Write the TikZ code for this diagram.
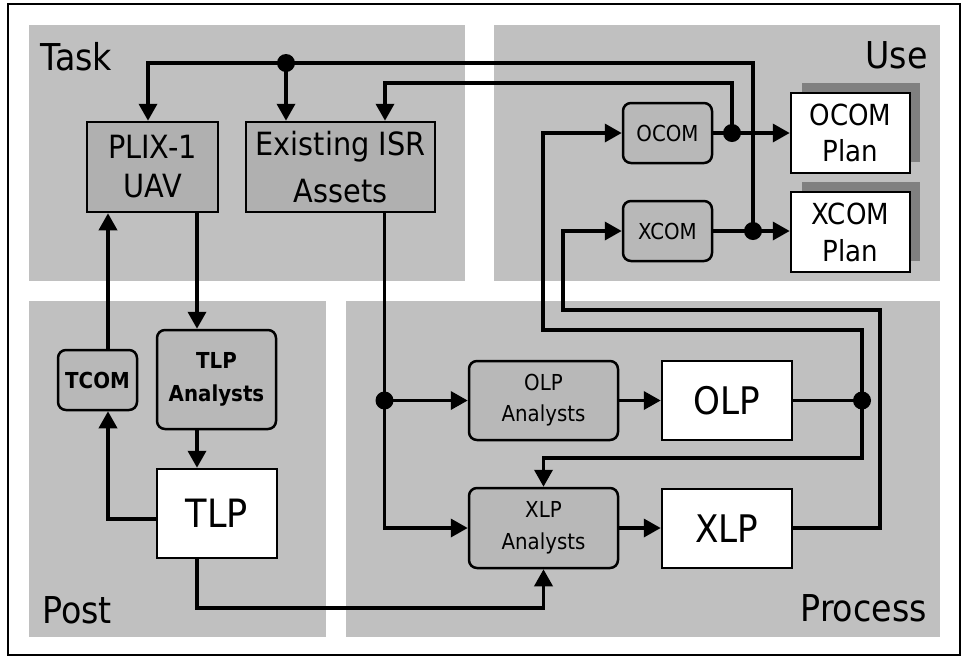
\documentclass[tikz,border=0pt]{standalone}
\usepackage{fontspec}
\setmainfont{DejaVu Sans}[FakeStretch=0.9]
\usetikzlibrary{arrows.meta}
\definecolor{panel}{HTML}{C0C0C0}
\definecolor{boxfill}{HTML}{B0B0B0}
\definecolor{rfill}{HTML}{B8B8B8}
\definecolor{shadowc}{HTML}{808080}
\begin{document}
\begin{tikzpicture}[x=1pt,y=-1pt,
  sqbox/.style={draw=black,line width=2.5pt,fill=boxfill,inner sep=0pt,align=center},
  rbox/.style={draw=black,line width=2.5pt,fill=rfill,rounded corners=8pt,inner sep=0pt,align=center},
  wbox/.style={draw=black,line width=2.5pt,fill=white,inner sep=0pt,align=center},
  conn/.style={line width=3.6pt,-{Triangle[length=17pt,width=18pt]}},
  wire/.style={line width=3.6pt},
  junc/.style={circle,fill=black,inner sep=0pt,minimum size=18pt},
  plabel/.style={font=\fontsize{37}{44}\selectfont,inner sep=0pt},
]
\useasboundingbox (0,0) rectangle (966,657);
\fill[white] (0,0) rectangle (966,657);
\draw[line width=2.5pt] (8,4) rectangle (960,655);
% panels
\fill[panel] (29,25) rectangle (465,281);
\fill[panel] (494,25) rectangle (940,281);
\fill[panel] (29,301) rectangle (326,637);
\fill[panel] (346,301) rectangle (940,637);
% panel labels
\node[plabel,anchor=base west] (ltask) at (40,70) {Task};
\node[plabel,anchor=base east] (luse) at (928,68) {Use};
\node[plabel,anchor=base west] (lpost) at (42,623) {Post};
\node[plabel,anchor=base east] (lproc) at (927,621) {Process};
% shadows
\fill[shadowc] (802,83) rectangle (920,162);
\fill[shadowc] (802,182) rectangle (920,261);
% boxes
\node[sqbox,minimum width=131pt,minimum height=90pt,font=\fontsize{32}{39}\selectfont] (plix) at (152.5,167) {PLIX-1\\UAV};
\node[sqbox,minimum width=189pt,minimum height=90pt,font=\fontsize{32}{47}\selectfont] (isr) at (340.5,167) {Existing ISR\\Assets};
\node[rbox,minimum width=89pt,minimum height=60pt,font=\fontsize{22}{26}\selectfont] (ocom) at (667.5,133) {OCOM};
\node[rbox,minimum width=89pt,minimum height=60pt,font=\fontsize{22}{26}\selectfont] (xcom) at (667.5,231) {XCOM};
\node[wbox,minimum width=119pt,minimum height=80pt,font=\fontsize{29}{36}\selectfont] (ocomplan) at (850.5,133) {OCOM\\Plan};
\node[wbox,minimum width=119pt,minimum height=80pt,font=\fontsize{29}{37}\selectfont] (xcomplan) at (850.5,232) {XCOM\\Plan};
\node[rbox,minimum width=79pt,minimum height=60pt,font=\bfseries\fontsize{22}{26}\selectfont] (tcom) at (97.5,380) {TCOM};
\node[rbox,minimum width=119pt,minimum height=99pt,font=\bfseries\fontsize{22}{33}\selectfont] (tlpa) at (216.5,379.5) {TLP\\Analysts};
\node[wbox,minimum width=120pt,minimum height=89pt,font=\fontsize{39}{44}\selectfont] (tlp) at (217,513.5) {TLP};
\node[rbox,minimum width=149pt,minimum height=79pt,font=\fontsize{22}{31}\selectfont] (olpa) at (543.5,400.5) {OLP\\Analysts};
\node[wbox,minimum width=130pt,minimum height=79pt,font=\fontsize{38}{44}\selectfont] (olp) at (727,400.5) {OLP};
\node[rbox,minimum width=149pt,minimum height=80pt,font=\fontsize{22}{32}\selectfont] (xlpa) at (543.5,528) {XLP\\Analysts};
\node[wbox,minimum width=130pt,minimum height=79pt,font=\fontsize{38}{44}\selectfont] (xlp) at (727,528.5) {XLP};
% junctions
\node[junc] (j1) at (286,63) {};
\node[junc] (j2) at (732,133) {};
\node[junc] (j3) at (753,231) {};
\node[junc] (j4) at (384.5,400.5) {};
\node[junc] (j5) at (862,400.5) {};
% helper x positions
\coordinate (tx) at (197,0);
\coordinate (cx) at (108,0);
\coordinate (px) at (148,0);
\coordinate (ix) at (385,0);
\coordinate (ox) at (543,0);
\coordinate (qx) at (563,0);
\coordinate (rx) at (880,0);
% connectors: Task/Post
\draw[conn] (plix.south -| tx) -- (tlpa.north -| tx);
\draw[conn] (tlpa.south -| tx) -- (tlp.north -| tx);
\draw[conn] (tlp.west |- 0,519) -| (tcom.south -| cx);
\draw[conn] (tcom.north -| cx) -- (plix.south -| cx);
\draw[conn] (tlp.south -| tx) -- (tx |- 0,608) -| (xlpa.south);
% tasking feedback
\draw[conn] (j3.center) |- (j1.center) -| (plix.north -| px);
\draw[conn] (j1.center) -- (isr.north -| j1);
\draw[conn] (j2.center) -- (j2 |- 0,83) -| (isr.north -| ix);
% use
\draw[conn] (ocom.east) -- (ocomplan.west);
\draw[conn] (xcom.east) -- (xcomplan.west |- xcom.east);
% process
\draw[wire] (isr.south -| j4) -- (j4.center);
\draw[conn] (j4.center) -- (olpa.west);
\draw[conn] (j4.center) |- (xlpa.west);
\draw[conn] (olpa.east) -- (olp.west);
\draw[wire] (olp.east) -- (j5.center);
\draw[conn] (j5.center) -- (j5 |- 0,330) -| (ox |- ocom.west) -- (ocom.west);
\draw[conn] (j5.center) -- (j5 |- 0,458) -| (xlpa.north);
\draw[conn] (xlpa.east) -- (xlp.west |- xlpa.east);
\draw[conn] (xlp.east |- xlpa.east) -- (rx |- xlpa.east) -- (rx |- 0,310) -| (qx |- xcom.west) -- (xcom.west);
\end{tikzpicture}
\end{document}
